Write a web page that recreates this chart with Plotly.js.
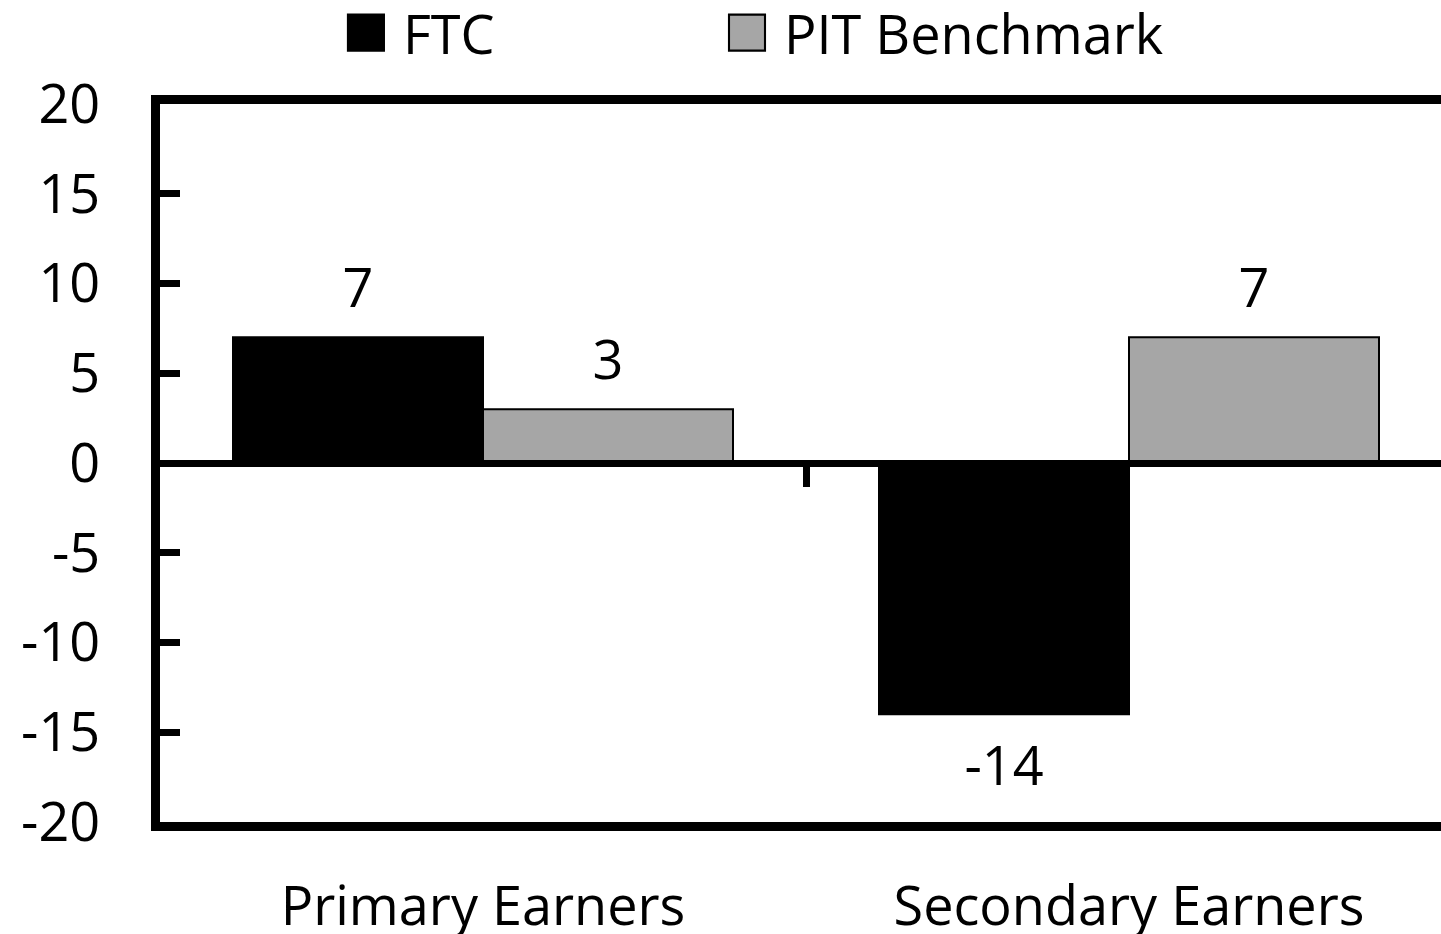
<!DOCTYPE html>
<html><head><meta charset="utf-8">
<script src="https://cdn.plot.ly/plotly-3.0.1.min.js"></script>
<style>html,body{margin:0;padding:0;overflow:hidden;background:#fff}</style>
</head><body><div id="chart"></div>
<script>
const categories = ['Primary Earners', 'Secondary Earners'];
const ftcValues = [7, -14];
const pitValues = [3, 7];
const seriesNames = ['FTC', 'PIT Benchmark'];
const yTickVals = [-20, -15, -10, -5, 0, 5, 10, 15, 20];
const yTickText = ['-20', '-15', '-10', '-5', '0', '5', '10', '15', '20'];
const categoryBoundaries = [0.5];

const FONT = 'Open Sans, Noto Sans, sans-serif';
const FS = 54;

const traces = [
  {
    type: 'bar', name: seriesNames[0], x: categories, y: ftcValues, legend: 'legend',
    text: ftcValues.map(String), textposition: 'outside', cliponaxis: false,
    textfont: {family: FONT, size: FS, color: '#000'},
    marker: {color: '#000000', line: {color: '#000', width: 2}}
  },
  {
    type: 'bar', name: seriesNames[1], x: categories, y: pitValues, legend: 'legend2',
    text: pitValues.map(String), textposition: 'outside', cliponaxis: false,
    textfont: {family: FONT, size: FS, color: '#000'},
    marker: {color: '#a6a6a6', line: {color: '#000', width: 2}}
  },
  // empty helper trace so the zero-position axis (category boundary tick) is drawn
  {type: 'scatter', x: [], y: [], xaxis: 'x2', yaxis: 'y', showlegend: false, hoverinfo: 'skip'}
];

const legendBase = {
  orientation: 'h', xanchor: 'left', xref: 'container', yref: 'container',
  y: 1, yanchor: 'top', itemwidth: 64,
  font: {family: FONT, size: FS, color: '#000'}, bgcolor: 'rgba(0,0,0,0)'
};

const layout = {
  width: 1460, height: 934,
  margin: {l: 160, r: 8, t: 104, b: 112},
  paper_bgcolor: '#fff', plot_bgcolor: '#fff',
  font: {family: FONT, size: FS, color: '#000'},
  barmode: 'group', bargap: 0.226, bargroupgap: 0,
  showlegend: true,
  legend: Object.assign({}, legendBase, {x: 0.2253}),
  legend2: Object.assign({}, legendBase, {x: 0.4863}),
  xaxis: {type: 'category', range: [-0.5, 1.5], showline: true, mirror: true,
          linecolor: '#000', linewidth: 9, ticks: '', showgrid: false, zeroline: false,
          tickfont: {family: FONT, size: FS, color: '#000'}, ticklabelstandoff: 29},
  xaxis2: {overlaying: 'x', anchor: 'free', position: 0.5, range: [-0.5, 1.5],
           type: 'linear', tickmode: 'array', tickvals: categoryBoundaries,
           showticklabels: false, ticks: 'outside', ticklen: 20, tickwidth: 7,
           tickcolor: '#000', showline: true, linecolor: '#000', linewidth: 7,
           showgrid: false, zeroline: false},
  yaxis: {range: [-20, 20], tickmode: 'array', tickvals: yTickVals, ticktext: yTickText,
          ticks: 'inside', ticklen: 20, tickwidth: 7, tickcolor: '#000',
          showline: true, mirror: true, linecolor: '#000', linewidth: 9,
          showgrid: false, zeroline: true, zerolinecolor: '#000', zerolinewidth: 7,
          ticklabelstandoff: 40,
          tickfont: {family: FONT, size: FS, color: '#000'}}
};

Plotly.newPlot('chart', traces, layout, {displayModeBar: false, staticPlot: true}).then(function () {
  // larger legend swatches, as in the original
  document.querySelectorAll('.legendpoints path').forEach(function (p) {
    const t = p.getAttribute('transform') || '';
    p.setAttribute('transform', t + ' scale(3)');
    p.style.strokeWidth = '0.7px';
  });
  // legends sit a little closer to the top edge
  document.querySelectorAll('.infolayer > g.legend, .infolayer > g[class^="legend"]').forEach(function (g) {
    const t = g.getAttribute('transform') || '';
    g.setAttribute('transform', t + ' translate(0,-9)');
  });
  // a little more room between bars and their value labels
  const seriesVals = [ftcValues, pitValues];
  document.querySelectorAll('.barlayer .trace').forEach(function (tr, ti) {
    tr.querySelectorAll('.point').forEach(function (pt, pi) {
      const txt = pt.querySelector('text');
      if (!txt || !seriesVals[ti]) return;
      const dy = seriesVals[ti][pi] >= 0 ? -11 : 10;
      const t = txt.getAttribute('transform') || '';
      txt.setAttribute('transform', 'translate(0,' + dy + ') ' + t);
    });
  });
});
</script>
</body></html>
